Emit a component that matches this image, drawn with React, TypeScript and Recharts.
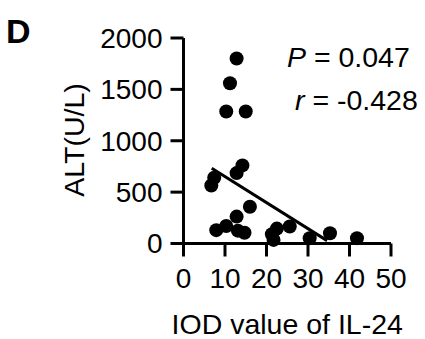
import React from 'react';
import { ReferenceLine, Scatter, ScatterChart, XAxis, YAxis } from 'recharts';

type point = {
    iod: number
    alt: number
};

const iodValues = [12.8, 11.2, 10.3, 15.0, 14.2, 12.8, 7.4, 6.7, 16.0, 12.8, 7.9, 10.3, 13.1, 14.7, 21.3, 21.7, 22.5, 25.6, 30.4, 35.3, 41.8];
const altValues = [1800, 1560, 1285, 1285, 760, 685, 640, 565, 358, 262, 130, 170, 125, 105, 90, 35, 145, 165, 52, 100, 52];

const xTicks = [0, 10, 20, 30, 40, 50];
const yTicks = [0, 500, 1000, 1500, 2000];

// fitted line end points
const fitStart = { x: 6.8, y: 732 };
const fitEnd = { x: 34.6, y: 28 };

const FONT = '"Liberation Sans", Arial, sans-serif';

const data: point[] = iodValues.map((iod, i) => ({ iod, alt: altValues[i] }));

const Dot = (props: any) => <circle cx={props.cx} cy={props.cy} r={7} fill="#000"/>;

export default function App(): JSX.Element {
    const axisStyle = { stroke: '#000', strokeWidth: 3 };
    const tickStyle = { fill: '#000', fontSize: 28, fontFamily: FONT };

    return (
        <div style={{ position: 'absolute', left: 0, top: 0, width: 425, height: 339, background: '#fff' }}>
            <ScatterChart width={425} height={339} margin={{ top: 38, right: 34, bottom: 0, left: 0 }}>
                <XAxis
                    type="number"
                    dataKey="iod"
                    domain={[0, 50]}
                    ticks={xTicks}
                    height={95.5}
                    axisLine={axisStyle}
                    tickLine={axisStyle}
                    tickSize={13}
                    tickMargin={12}
                    tick={tickStyle}
                    interval={0}
                    label={{
                        content: (p: any) => (
                            <text x={p.viewBox.x + p.viewBox.width / 2} y={334} textAnchor="middle"
                                  fontSize={28.5} fontFamily={FONT} fill="#000">IOD value of IL-24</text>
                        )
                    }}/>
                <YAxis
                    type="number"
                    dataKey="alt"
                    domain={[0, 2000]}
                    ticks={yTicks}
                    width={183.5}
                    axisLine={axisStyle}
                    tickLine={axisStyle}
                    tickSize={13}
                    tickMargin={8}
                    tick={tickStyle}
                    interval={0}
                    label={{
                        content: () => (
                            <text x={83.5} y={140} textAnchor="middle" transform="rotate(-90, 83.5, 140)"
                                  fontSize={28.5} fontFamily={FONT} fill="#000">ALT(U/L)</text>
                        )
                    }}/>
                <Scatter data={data} shape={Dot} isAnimationActive={false}/>
                <ReferenceLine segment={[fitStart, fitEnd]} stroke="#000" strokeWidth={3}/>
            </ScatterChart>
            <svg width={425} height={339} style={{ position: 'absolute', left: 0, top: 0, pointerEvents: 'none' }}>
                <text x={6} y={43} fontSize={34} fontWeight="bold" fontFamily={FONT} fill="#000">D</text>
                <text x={287} y={67} fontSize={28.5} fontFamily={FONT} fill="#000">
                    <tspan fontStyle="italic">P</tspan> = 0.047
                </text>
                <text x={295} y={110} fontSize={28.5} fontFamily={FONT} fill="#000">
                    <tspan fontStyle="italic">r</tspan> = -0.428
                </text>
            </svg>
        </div>
    );
}
